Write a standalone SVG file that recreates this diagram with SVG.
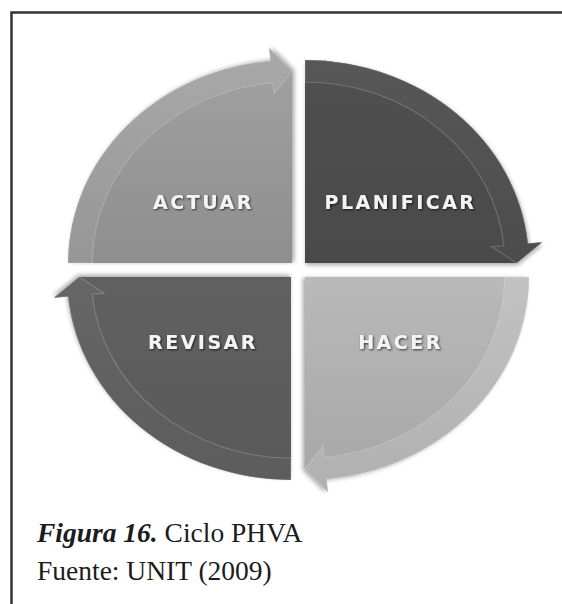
<svg xmlns="http://www.w3.org/2000/svg" xmlns:xlink="http://www.w3.org/1999/xlink" width="562" height="604" viewBox="0 0 562 604">
  <style>
    .label { font-family: "DejaVu Sans", "Liberation Sans", sans-serif; font-weight: bold; font-size: 19px; letter-spacing: 2.5px; fill: #f4f4f4; text-anchor: middle; filter: url(#textShadow); }
    .caption { font-family: "Liberation Serif", "Times New Roman", serif; font-size: 27.5px; fill: #1c1c1c; }
    .band { stroke: rgba(255,255,255,0.2); stroke-width: 1; vector-effect: non-scaling-stroke; }
  </style>
  <defs>
    <!-- quarter disc with its arrow tip, drawn for the upper-right quadrant (centre at origin) -->
    <path id="body" d="M0,0 V-203 A203,203 0 0 1 202.1,-19.5 L215,-20.7 L192,0 Z"/>
    <!-- curved arrow running along the outer rim -->
    <path id="rim" d="M0,-203 A203,203 0 0 1 202.1,-19.5 L215,-20.7 L192,0 L169.2,-16.3 L180.2,-17.3 A181,181 0 0 0 0,-181 Z"/>

    <filter id="shadow" x="-10%" y="-10%" width="125%" height="125%">
      <feDropShadow dx="1" dy="2" stdDeviation="2" flood-color="#000" flood-opacity="0.35"/>
    </filter>
    <filter id="textShadow" x="-10%" y="-30%" width="120%" height="160%">
      <feDropShadow dx="1" dy="1" stdDeviation="1" flood-color="#000" flood-opacity="0.7"/>
    </filter>

    <!-- gradients are given in each quadrant's local (rotated) space so they run top to bottom on screen -->
    <linearGradient id="gActBody" gradientUnits="userSpaceOnUse" x1="215" y1="0" x2="0" y2="0">
      <stop offset="0" stop-color="#a2a2a2"/><stop offset="1" stop-color="#8e8e8e"/>
    </linearGradient>
    <linearGradient id="gActRim" gradientUnits="userSpaceOnUse" x1="215" y1="0" x2="0" y2="0">
      <stop offset="0" stop-color="#a9a9a9"/><stop offset="1" stop-color="#969696"/>
    </linearGradient>
    <linearGradient id="gPlaBody" gradientUnits="userSpaceOnUse" x1="0" y1="-203" x2="0" y2="0">
      <stop offset="0" stop-color="#505050"/><stop offset="1" stop-color="#4a4a4a"/>
    </linearGradient>
    <linearGradient id="gPlaRim" gradientUnits="userSpaceOnUse" x1="0" y1="-203" x2="0" y2="0">
      <stop offset="0" stop-color="#575757"/><stop offset="1" stop-color="#4c4c4c"/>
    </linearGradient>
    <linearGradient id="gHacBody" gradientUnits="userSpaceOnUse" x1="0" y1="0" x2="215" y2="0">
      <stop offset="0" stop-color="#b9b9b9"/><stop offset="1" stop-color="#a6a6a6"/>
    </linearGradient>
    <linearGradient id="gHacRim" gradientUnits="userSpaceOnUse" x1="0" y1="0" x2="215" y2="0">
      <stop offset="0" stop-color="#c2c2c2"/><stop offset="1" stop-color="#b0b0b0"/>
    </linearGradient>
    <linearGradient id="gRevBody" gradientUnits="userSpaceOnUse" x1="0" y1="0" x2="0" y2="-203">
      <stop offset="0" stop-color="#606060"/><stop offset="1" stop-color="#595959"/>
    </linearGradient>
    <linearGradient id="gRevRim" gradientUnits="userSpaceOnUse" x1="0" y1="0" x2="0" y2="-203">
      <stop offset="0" stop-color="#666666"/><stop offset="1" stop-color="#5c5c5c"/>
    </linearGradient>
  </defs>

  <rect width="562" height="604" fill="#ffffff"/>

  <!-- frame around the figure -->
  <path d="M11.5,604 V12.5 H562" fill="none" stroke="#333333" stroke-width="2.5"/>

  <!-- quadrants -->
  <g id="node-actuar">
    <use xlink:href="#body" fill="url(#gActBody)" filter="url(#shadow)" transform="translate(292,263) scale(1.103,1) rotate(-90)"/>
    <text class="label" x="203.5" y="209">ACTUAR</text>
  </g>
  <g id="node-planificar">
    <use xlink:href="#body" fill="url(#gPlaBody)" filter="url(#shadow)" transform="translate(305,263) scale(1.103,1)"/>
    <text class="label" x="400.5" y="209">PLANIFICAR</text>
  </g>
  <g id="node-hacer">
    <use xlink:href="#body" fill="url(#gHacBody)" filter="url(#shadow)" transform="translate(305,277) scale(1.103,1) rotate(90)"/>
    <text class="label" x="400.5" y="349">HACER</text>
  </g>
  <g id="node-revisar">
    <use xlink:href="#body" fill="url(#gRevBody)" filter="url(#shadow)" transform="translate(291,277) scale(1.103,1) rotate(180)"/>
    <text class="label" x="203" y="349">REVISAR</text>
  </g>

  <!-- curved arrows of the cycle -->
  <g id="connectors">
    <use xlink:href="#rim" class="band" fill="url(#gActRim)" transform="translate(292,263) scale(1.103,1) rotate(-90)"/>
    <use xlink:href="#rim" class="band" fill="url(#gPlaRim)" transform="translate(305,263) scale(1.103,1)"/>
    <use xlink:href="#rim" class="band" fill="url(#gHacRim)" transform="translate(305,277) scale(1.103,1) rotate(90)"/>
    <use xlink:href="#rim" class="band" fill="url(#gRevRim)" transform="translate(291,277) scale(1.103,1) rotate(180)"/>
  </g>

  <!-- caption -->
  <text class="caption" x="37" y="542"><tspan font-weight="bold" font-style="italic">Figura 16.</tspan> Ciclo PHVA</text>
  <text class="caption" x="37" y="580">Fuente: UNIT (2009)</text>
</svg>
